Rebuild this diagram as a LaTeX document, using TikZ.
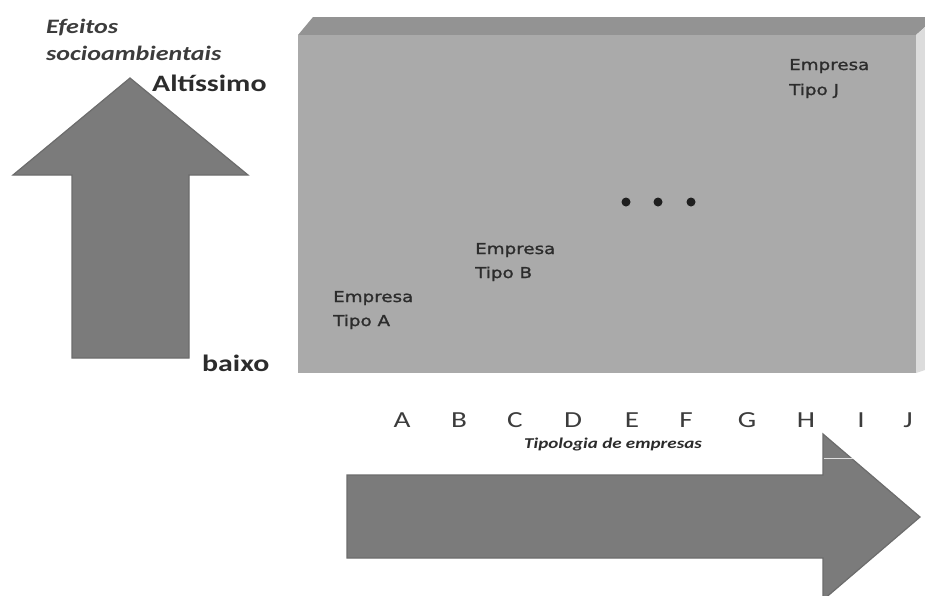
\documentclass[tikz,border=0pt]{standalone}
\usepackage{fontspec}
\newfontfamily\calw[FakeStretch=1.27]{Carlito}
\newfontfamily\dejaw[FakeStretch=1.22,FakeBold=1.2]{DejaVu Sans}
\definecolor{boxfront}{HTML}{AAAAAA}
\definecolor{boxtop}{HTML}{939393}
\definecolor{boxside}{HTML}{DCDCDC}
\definecolor{arrfill}{HTML}{7B7B7B}
\definecolor{arredge}{HTML}{6C6C6C}
\definecolor{txtdark}{HTML}{2C2C2C}
\definecolor{txtmid}{HTML}{3C3C3C}
\tikzset{
  bigarrow/.style={fill=arrfill, draw=arredge, line width=1.2pt, line join=miter},
  emp/.style={anchor=base west, inner sep=0pt, text=txtdark, font=\dejaw\fontsize{15}{18}\selectfont},
  lvl/.style={anchor=base west, inner sep=0pt, text=txtdark, font=\calw\bfseries\fontsize{23.5}{26}\selectfont},
  axtitle/.style={anchor=base west, inner sep=0pt, text=txtmid, font=\calw\bfseries\itshape\fontsize{20.5}{24}\selectfont},
  letter/.style={anchor=base, inner sep=0pt, text=txtmid, font=\calw\fontsize{23}{26}\selectfont},
  typtitle/.style={anchor=base, inner sep=0pt, text=txtdark, font=\calw\bfseries\itshape\fontsize{15}{17}\selectfont},
  dotmark/.style={circle, fill=black!88, inner sep=0pt, minimum size=9pt}
}
\begin{document}
\begin{tikzpicture}[x=1pt,y=-1pt]
\useasboundingbox (0,0) rectangle (925,595);
\clip (0,0) rectangle (925,595);
% box
\fill[boxtop] (298,35) -- (313,17) -- (925,17) -- (925,27) -- (916,35) -- cycle;
\fill[boxside] (916,35) -- (925,27) -- (925,370) -- (916,373) -- cycle;
\fill[boxfront] (298,35) rectangle (916,373);
% up arrow
\filldraw[bigarrow] (130,78) -- (248,175) -- (189,175) -- (189,358) -- (72,358) -- (72,175) -- (13,175) -- cycle;
% right arrow
\filldraw[bigarrow] (347,475) -- (823,475) -- (823,434) -- (920,517) -- (823,600) -- (823,558) -- (347,558) -- cycle;
\draw[white!88!black, line width=0.8pt] (823.5,458) -- (853,458);
% axis texts
\node[axtitle] (ef1) at (46,33) {Efeitos};
\node[axtitle] (ef2) at (46,60) {socioambientais};
\node[lvl] (alt) at (152,91) {Altíssimo};
\node[lvl] (bai) at (202,371) {baixo};
% companies
\node[emp] (a1) at (333,302) {Empresa};
\node[emp] (a2) at (333,326) {Tipo A};
\node[emp] (b1) at (475,254) {Empresa};
\node[emp] (b2) at (475,278) {Tipo B};
\node[emp] (j1) at (789,70) {Empresa};
\node[emp] (j2) at (789,95) {Tipo J};
\node[dotmark] (d1) at (626,202) {};
\node[dotmark] (d2) at (658,202) {};
\node[dotmark] (d3) at (691,202) {};
% letters
\node[letter] (lA) at (402,427) {A};
\node[letter] (lB) at (459,427) {B};
\node[letter] (lC) at (515,427) {C};
\node[letter] (lD) at (573,427) {D};
\node[letter] (lE) at (632,427) {E};
\node[letter] (lF) at (686,427) {F};
\node[letter] (lG) at (747,427) {G};
\node[letter] (lH) at (806,427) {H};
\node[letter] (lI) at (861,427) {I};
\node[letter] (lJ) at (908,427) {J};
\node[typtitle] (typ) at (613,448) {Tipologia de empresas};
\end{tikzpicture}
\end{document}
